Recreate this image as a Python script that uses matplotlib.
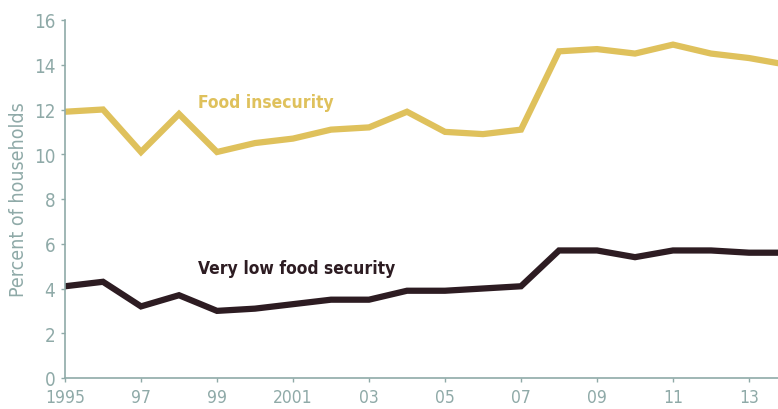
import numpy as np
import matplotlib.pyplot as plt

# Household food security trends, 1995-2014
years = np.arange(1995, 2015)
food_insecurity = [11.9, 12.0, 10.1, 11.8, 10.1, 10.5, 10.7, 11.1, 11.2, 11.9,
                   11.0, 10.9, 11.1, 14.6, 14.7, 14.5, 14.9, 14.5, 14.3, 14.0]
very_low = [4.1, 4.3, 3.2, 3.7, 3.0, 3.1, 3.3, 3.5, 3.5, 3.9,
            3.9, 4.0, 4.1, 5.7, 5.7, 5.4, 5.7, 5.7, 5.6, 5.6]
tick_years = [1995, 1997, 1999, 2001, 2003, 2005, 2007, 2009, 2011, 2013]
tick_labels = ['1995', '97', '99', '2001', '03', '05', '07', '09', '11', '13']

gold = '#dfc15c'
dark = '#2d1c22'
axis_col = '#8faaa8'

plt.rcParams['font.family'] = ['DejaVu Sans']
plt.rcParams['font.stretch'] = 'condensed'

fig = plt.figure(figsize=(7.78, 4.10), dpi=100)
ax = fig.add_axes([65 / 778, 31 / 410, 1 - 65 / 778, 358 / 410])

ax.plot(years, food_insecurity, color=gold, linewidth=4.5, solid_joinstyle='miter')
ax.plot(years, very_low, color=dark, linewidth=4.5, solid_joinstyle='miter')

ax.text(1998.5, 12.35, 'Food insecurity', color=gold, fontsize=12.5, fontweight='bold',
        fontstretch='condensed', va='center')
ax.text(1998.5, 4.9, 'Very low food security', color=dark, fontsize=12.5, fontweight='bold',
        fontstretch='condensed', va='center')

ax.set_xlim(1995, 1995 + 713 / 38)
ax.set_ylim(0, 16)
ax.set_yticks(range(0, 17, 2))
ax.set_xticks(tick_years)
ax.set_xticklabels(tick_labels)
ax.set_ylabel('Percent of households', color=axis_col, fontsize=14, labelpad=4)

for side in ['top', 'right']:
    ax.spines[side].set_visible(False)
for side in ['left', 'bottom']:
    ax.spines[side].set_color(axis_col)
    ax.spines[side].set_linewidth(1.2)
ax.tick_params(colors=axis_col, length=3, width=1)
ax.tick_params(axis='y', labelsize=13.5, pad=4)
ax.tick_params(axis='x', labelsize=12.5, pad=4.5)

fig.savefig('out.png', dpi=100)
